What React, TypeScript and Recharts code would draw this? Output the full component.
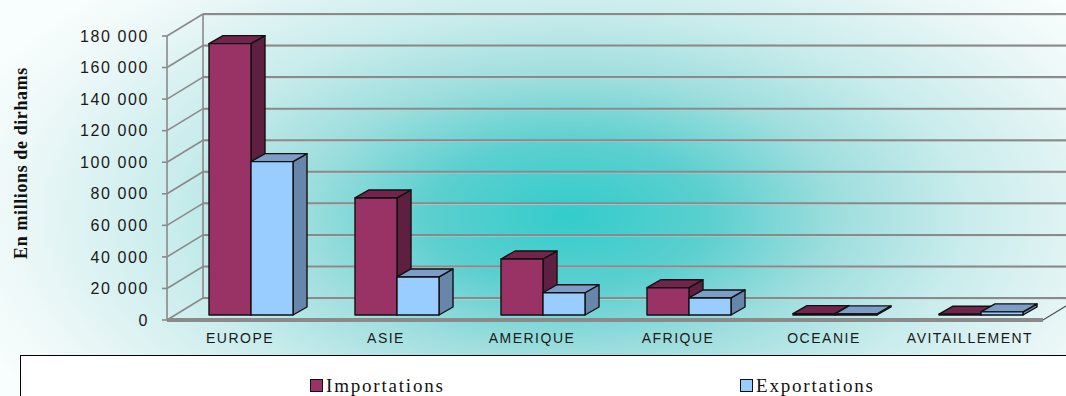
import React from 'react';
import { BarChart, Bar, XAxis, YAxis, CartesianGrid, Legend } from 'recharts';

const categories = ['EUROPE', 'ASIE', 'AMERIQUE', 'AFRIQUE', 'OCEANIE', 'AVITAILLEMENT'];
const importations = [172000, 74200, 35500, 17300, 900, 500];
const exportations = [97200, 24100, 14100, 10800, 700, 2000];
const yTicks = [0, 20000, 40000, 60000, 80000, 100000, 120000, 140000, 160000, 180000];

const data = categories.map((name, i) => ({ name, imp: importations[i], exp: exportations[i] }));

// depth of the walls and of the bars (excel style 3d)
const WALL_DX = 36;
const WALL_DY = -22;
const BAR_SHIFT_X = 11;
const BAR_SHIFT_Y = -5;
const BAR_DX = 14;
const BAR_DY = -8;

const GRID = '#8a8a8a';
const SANS = '"Liberation Sans", Arial, sans-serif';
const SERIF = '"Liberation Serif", "Times New Roman", serif';

const fmt = (v: number) => String(v).replace(/\B(?=(\d{3})+(?!\d))/g, ' ');

const make3D = (front: string, top: string, side: string) => (props: any) => {
  const { x, y, width, height } = props;
  if (x == null || y == null) return <g />;
  const fx = x + BAR_SHIFT_X;
  const fy = y + BAR_SHIFT_Y;
  const h = Math.max(height, 0.5);
  const topPts = `${fx},${fy} ${fx + width},${fy} ${fx + width + BAR_DX},${fy + BAR_DY} ${fx + BAR_DX},${fy + BAR_DY}`;
  const sidePts = `${fx + width},${fy} ${fx + width + BAR_DX},${fy + BAR_DY} ${fx + width + BAR_DX},${fy + h + BAR_DY} ${fx + width},${fy + h}`;
  return (
    <g stroke="#111" strokeWidth={1.4} strokeLinejoin="round">
      <polygon points={sidePts} fill={side} />
      <polygon points={topPts} fill={top} />
      <rect x={fx} y={fy} width={width} height={h} fill={front} />
    </g>
  );
};

const ImpShape = make3D('#993366', '#73244c', '#5f1f40');
const ExpShape = make3D('#99ccff', '#7d9dc6', '#6786aa');

// grid lines drawn on the back wall and left wall
const WallLine = (props: any) => {
  const { x1, y1, x2, y, height } = props;
  const bottom = y + height;
  const isFloor = Math.abs(y1 - bottom) < 1;
  const isTop = Math.abs(y1 - y) < 1;
  return (
    <g>
      <line x1={x1 + WALL_DX} y1={y1 + WALL_DY + 1} x2={x2 + WALL_DX} y2={y1 + WALL_DY + 1} stroke="#c8d4d4" strokeWidth={1} />
      <line x1={x1 + WALL_DX} y1={y1 + WALL_DY} x2={x2 + WALL_DX} y2={y1 + WALL_DY} stroke={GRID} strokeWidth={2} />
      <line x1={x1} y1={y1} x2={x1 + WALL_DX} y2={y1 + WALL_DY} stroke={GRID} strokeWidth={1.6} />
      <line x1={x1 - 5} y1={y1} x2={x1} y2={y1} stroke={GRID} strokeWidth={1.6} />
      {isTop && (
        <line x1={x1 + WALL_DX} y1={y1 + WALL_DY} x2={x1 + WALL_DX} y2={bottom + WALL_DY} stroke={GRID} strokeWidth={1.6} />
      )}
      {isFloor && (
        <line x1={x2} y1={y1} x2={x2 + WALL_DX} y2={y1 + WALL_DY} stroke="#555" strokeWidth={1.2} />
      )}
    </g>
  );
};

const AxisTitle = (props: any) => {
  const vb = props.viewBox || { x: 0, y: 0, height: 0 };
  const cx = vb.x + 21;
  const cy = vb.y + vb.height / 2 - 15;
  return (
    <text
      x={cx}
      y={cy}
      transform={`rotate(-90 ${cx} ${cy})`}
      textAnchor="middle"
      dominantBaseline="central"
      fontFamily={SERIF}
      fontWeight="bold"
      fontSize={18}
      letterSpacing={0.6}
      fill="#111"
    >
      En millions de dirhams
    </text>
  );
};

const LegendBox = () => (
  <div
    style={{
      position: 'relative',
      width: 1060,
      height: 60,
      background: '#fff',
      border: '1.5px solid #000',
      boxSizing: 'border-box',
      fontFamily: SERIF,
      fontSize: 19,
      letterSpacing: 1.8,
      color: '#111',
    }}
  >
    {[
      { label: 'Importations', color: '#993366', left: 289 },
      { label: 'Exportations', color: '#99ccff', left: 719 },
    ].map((it) => (
      <div key={it.label} style={{ position: 'absolute', left: it.left, top: 20, display: 'flex', alignItems: 'center' }}>
        <span style={{ width: 11, height: 11, background: it.color, border: '1.5px solid #111', marginRight: 3 }} />
        <span style={{ lineHeight: '19px' }}>{it.label}</span>
      </div>
    ))}
  </div>
);

export default function App() {
  return (
    <div
      style={{
        position: 'relative',
        width: 1066,
        height: 396,
        overflow: 'hidden',
        background:
          'radial-gradient(ellipse 640px 330px at 570px 215px, #33cccc 0%, #5ccfcf 22%, #9fdede 42%, #c9ecec 62%, #eef8f8 88%, #f8fdfd 100%)',
      }}
    >
      <style>{'body{margin:0}'}</style>
      <BarChart
        width={1066}
        height={396}
        data={data}
        margin={{ top: 36, right: 23, left: 0, bottom: 46 }}
        barGap={0}
      >
        <CartesianGrid vertical={false} horizontal={(p: any) => <WallLine {...p} />} />
        <XAxis
          dataKey="name"
          height={30}
          tickLine={false}
          axisLine={{ stroke: GRID, strokeWidth: 4 }}
          tickMargin={7}
          tick={{ fontSize: 14, fill: '#1a1a1a', fontFamily: SANS, letterSpacing: 1.5 }}
          interval={0}
        />
        <YAxis
          width={167}
          domain={[0, 180000]}
          ticks={yTicks}
          tickFormatter={fmt}
          tickLine={false}
          axisLine={{ stroke: GRID, strokeWidth: 1.6 }}
          tickMargin={12}
          tick={{ fontSize: 16, fill: '#1a1a1a', fontFamily: SANS, letterSpacing: 1.6 }}
          label={<AxisTitle />}
        />
        <Legend
          verticalAlign="middle"
          align="center"
          layout="horizontal"
          wrapperStyle={{ top: 355, left: 20, width: 1060, height: 60, bottom: 'auto' }}
          content={() => <LegendBox />}
        />
        <Bar dataKey="imp" name="Importations" fill="#993366" barSize={42} shape={ImpShape} isAnimationActive={false} />
        <Bar dataKey="exp" name="Exportations" fill="#99ccff" barSize={42} shape={ExpShape} isAnimationActive={false} />
      </BarChart>
    </div>
  );
}
